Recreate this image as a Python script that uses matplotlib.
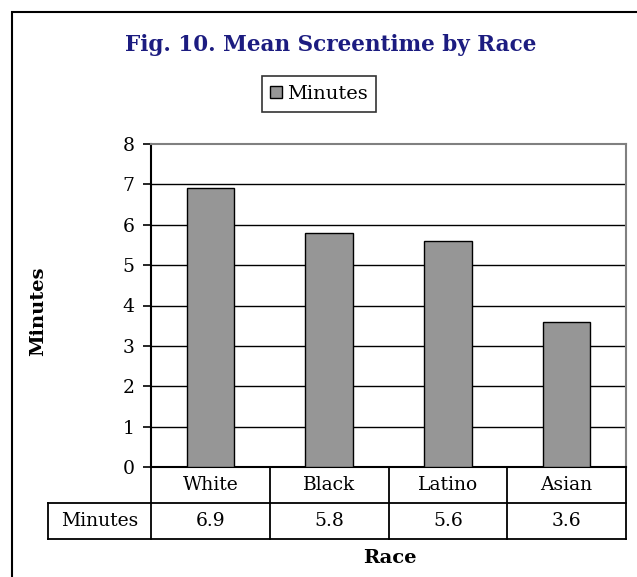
import matplotlib
matplotlib.use("Agg")
import matplotlib.pyplot as plt
from matplotlib.patches import Rectangle
from matplotlib.lines import Line2D

categories = ["White", "Black", "Latino", "Asian"]
minutes = [6.9, 5.8, 5.6, 3.6]
series_name = "Minutes"
yticks = [0, 1, 2, 3, 4, 5, 6, 7, 8]

W, H = 637, 577
fig = plt.figure(figsize=(W / 100, H / 100), dpi=100)
plt.rcParams['font.family'] = ['DejaVu Serif']

def fx(px):
    return px / W

def fy(py):
    return 1 - py / H

# outer frame
fig.patches.append(Rectangle((fx(12), fy(700)), fx(700), fy(12) - fy(700),
                             transform=fig.transFigure, fill=False,
                             edgecolor='black', linewidth=1.5, zorder=0))

left, right, top, bottom = 151, 626, 144, 467
ax = fig.add_axes([fx(left), fy(bottom), fx(right - left), fy(top) - fy(bottom)])
x = list(range(len(categories)))
ax.bar(x, minutes, width=0.4, color='#969696', edgecolor='black', linewidth=1.0,
       zorder=3, label=series_name)
ax.set_xlim(-0.5, len(categories) - 0.5)
ax.set_ylim(0, 8)
ax.set_yticks(yticks)
ax.set_yticklabels([str(t) for t in yticks], fontsize=13.5)
ax.set_xticks([])
ax.tick_params(axis='y', length=6, width=1.2, pad=6)
for t in yticks[1:-1]:
    ax.axhline(t, color='black', linewidth=1.0, zorder=1)
ax.spines['left'].set_linewidth(1.5)
ax.spines['bottom'].set_linewidth(1.5)
ax.spines['top'].set_color('#808080')
ax.spines['right'].set_color('#808080')
ax.spines['top'].set_linewidth(1.5)
ax.spines['right'].set_linewidth(1.5)

# data table
row1_top, row1_bot, row2_bot = 467, 503, 539
lab_left = 48
col_w = (right - left) / len(categories)
lw = 1.3
fs = 13.5
def hline(y, x0, x1):
    fig.lines.append(Line2D([fx(x0), fx(x1)], [fy(y), fy(y)], transform=fig.transFigure,
                            color='black', linewidth=lw))
def vline(xp, y0, y1):
    fig.lines.append(Line2D([fx(xp), fx(xp)], [fy(y0), fy(y1)], transform=fig.transFigure,
                            color='black', linewidth=lw))
hline(row1_bot, lab_left, right)
hline(row2_bot, lab_left, right)
vline(lab_left, row1_bot, row2_bot)
vline(left, row1_top, row2_bot)
for i in range(len(categories)):
    vline(left + col_w * (i + 1), row1_top, row2_bot)
    cx = left + col_w * (i + 0.5)
    fig.text(fx(cx), fy((row1_top + row1_bot) / 2), categories[i], ha='center', va='center', fontsize=fs)
    fig.text(fx(cx), fy((row1_bot + row2_bot) / 2), f"{minutes[i]:.1f}", ha='center', va='center', fontsize=fs)
fig.text(fx((lab_left + left) / 2), fy((row1_bot + row2_bot) / 2), series_name, ha='center', va='center', fontsize=fs)

# axis labels
fig.text(fx(390), fy(558), "Race", ha='center', va='center', fontsize=14, fontweight='bold')
fig.text(fx(38), fy(311), "Minutes", ha='center', va='center', fontsize=14, fontweight='bold', rotation=90)

# title
fig.text(fx(331), fy(45), "Fig. 10. Mean Screentime by Race", ha='center', va='center',
         fontsize=15.5, fontweight='bold', color='#1c1c80')

# legend
leg = fig.legend(loc='center', bbox_to_anchor=(fx(319), fy(94)), fontsize=14,
                 frameon=True, fancybox=False, edgecolor='black', handlelength=0.6,
                 handleheight=0.6, handletextpad=0.25, borderpad=0.45, borderaxespad=0)
leg.get_frame().set_linewidth(1.2)

fig.savefig("out.png", dpi=100)
